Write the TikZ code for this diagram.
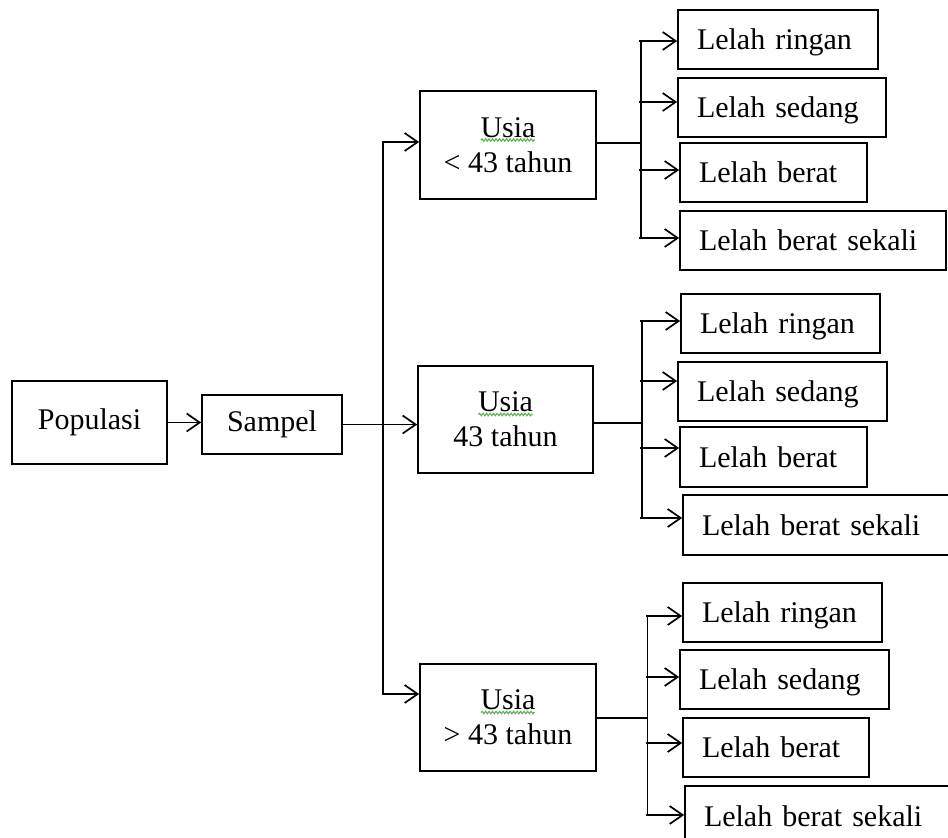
\documentclass[tikz,border=0pt]{standalone}
\usepackage{fontspec}
\setmainfont{Liberation Serif}
\usetikzlibrary{arrows.meta,decorations.pathmorphing}
\begin{document}
\begin{tikzpicture}[x=1pt,y=-1pt,line width=1.7pt,
  bx/.style={draw,rectangle,inner sep=0pt,font=\fontsize{30pt}{35pt}\selectfont},
  usia/.style={bx,align=center,minimum width=#1,minimum height=107pt},
  leaf/.style={bx,inner xsep=19pt,align=left,text height=20pt,text depth=0pt},
  arr/.style={-{Straight Barb[length=13pt,width=18pt]}},
  squig/.style={draw={rgb,255:red,90;green,175;blue,80},line width=1.1pt,decorate,
    decoration={snake,amplitude=1.2pt,segment length=3.5pt}},
  trunk/.style={line cap=rect}]
\useasboundingbox (0,0) rectangle (948,838);

% left part
\node[bx,minimum width=155pt,minimum height=83pt] (pop) at (89.5,422.5) {Populasi};
\node[bx,minimum width=140pt,minimum height=59pt] (samp) at (272,424.5) {Sampel};

% age boxes
\node[usia=176pt,minimum height=108pt] (u1) at (508,145) {Usia\\\textless{} 43 tahun};
\node[usia=175pt] (u2) at (505.5,419.5) {Usia\\43 tahun};
\node[usia=176pt] (u3) at (508,717.5) {Usia\\\textgreater{} 43 tahun};

% spell-check underlines
\draw[squig] ([xshift=-27pt,yshift=5pt]u1.center) -- ([xshift=27pt,yshift=5pt]u1.center);
\draw[squig] ([xshift=-27pt,yshift=5pt]u2.center) -- ([xshift=27pt,yshift=5pt]u2.center);
\draw[squig] ([xshift=-27pt,yshift=5pt]u3.center) -- ([xshift=27pt,yshift=5pt]u3.center);

% leaves, group 1
\node[leaf,text width=162pt,minimum height=59pt] (r1) at (778,39.5) {Lelah ringan};
\node[leaf,text width=170pt,minimum height=59pt] (s1) at (782,107.5) {Lelah sedang};
\node[leaf,text width=149pt,minimum height=59pt] (b1) at (773.5,172.5) {Lelah berat};
\node[leaf,text width=228pt,minimum height=59pt] (k1) at (813,240.5) {Lelah berat sekali};
% group 2
\node[leaf,text width=161pt,minimum height=59pt] (r2) at (780.5,323.5) {Lelah ringan};
\node[leaf,text width=171pt,minimum height=59pt] (s2) at (782.5,391.5) {Lelah sedang};
\node[leaf,text width=149pt,minimum height=60pt] (b2) at (773.5,457) {Lelah berat};
\node[leaf,text width=254pt,minimum height=60pt] (k2) at (829,525) {Lelah berat sekali};
% group 3
\node[leaf,text width=161pt,minimum height=59pt] (r3) at (782.5,612.5) {Lelah ringan};
\node[leaf,text width=171pt,minimum height=59pt] (s3) at (784.5,679.5) {Lelah sedang};
\node[leaf,text width=148pt,minimum height=59pt] (b3) at (776,747.5) {Lelah berat};
\node[leaf,text width=252pt,minimum height=60pt] (k3) at (830,816) {Lelah berat sekali};

% main connectors
\draw[arr] (pop.east) -- (samp.west |- pop.east);
\draw[arr] (samp.east) -- (samp.east -| u2.west);
\coordinate (ta) at (383,142);
\coordinate (tb) at (383,694);
\draw[trunk] (ta) -- (tb);
\draw[arr] (ta) -- (ta -| u1.west);
\draw[arr] (tb) -- (tb -| u3.west);

% branch 1
\coordinate (j1) at (641,143);
\coordinate (c11) at (641,41);
\coordinate (c12) at (641,102);
\coordinate (c13) at (641,170);
\coordinate (c14) at (641,238);
\draw (u1.east |- j1) -- (j1);
\draw (c11) -- (c14);
\draw[arr] ([xshift=-2pt]c11) -- (c11 -| r1.west);
\draw[arr] ([xshift=-2pt]c12) -- (c12 -| s1.west);
\draw[arr] ([xshift=-2pt]c13) -- (c13 -| b1.west);
\draw[arr] ([xshift=-2pt]c14) -- (c14 -| k1.west);

% branch 2
\coordinate (j2) at (642,423);
\coordinate (c21) at (642,321);
\coordinate (c22) at (642,381);
\coordinate (c23) at (642,448);
\coordinate (c24) at (642,518);
\draw (u2.east |- j2) -- (j2);
\draw (c21) -- (c24);
\draw[arr] ([xshift=-2pt]c21) -- (c21 -| r2.west);
\draw[arr] ([xshift=-2pt]c22) -- (c22 -| s2.west);
\draw[arr] ([xshift=-2pt]c23) -- (c23 -| b2.west);
\draw[arr] ([xshift=-2pt]c24) -- (c24 -| k2.west);

% branch 3
\coordinate (j3) at (647.5,718);
\coordinate (c31) at (647.5,616);
\coordinate (c32) at (647.5,677);
\coordinate (c33) at (647.5,743);
\coordinate (c34) at (647.5,815);
\draw (u3.east |- j3) -- (j3);
\draw (c31) -- (c34);
\draw[arr] ([xshift=-2pt]c31) -- (c31 -| r3.west);
\draw[arr] ([xshift=-2pt]c32) -- (c32 -| s3.west);
\draw[arr] ([xshift=-2pt]c33) -- (c33 -| b3.west);
\draw[arr] ([xshift=-2pt]c34) -- (c34 -| k3.west);
\end{tikzpicture}
\end{document}
